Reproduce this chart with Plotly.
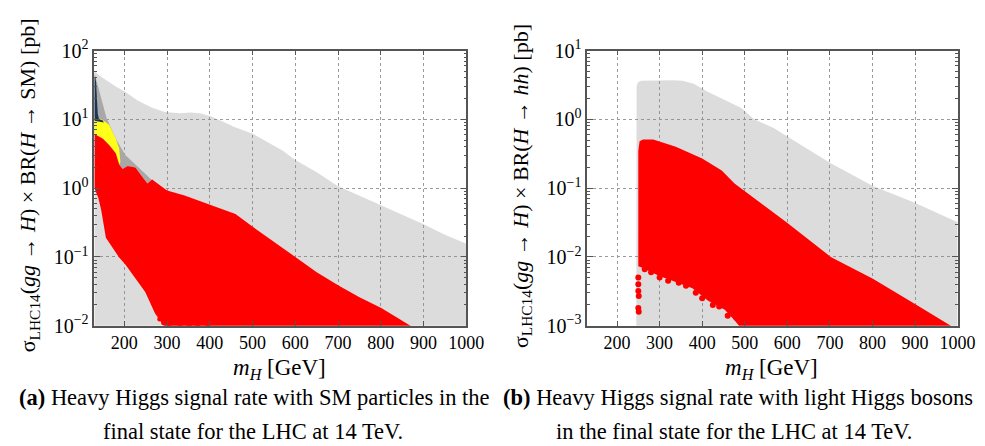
import plotly.graph_objects as go

# ---- values (m_H in GeV, rate in pb) ----

# (a) heavy Higgs -> SM particles
a_light_m = [130, 145, 160, 180, 203, 230, 265, 295, 330, 357, 380, 403, 430, 456, 502,
             571, 598, 650, 699, 750, 798, 850, 899, 950, 1000]
a_light_s = [50, 42, 36, 30, 25, 19, 14.7, 12.8, 12.3, 12.6, 12.2, 11, 9.3, 7.8, 6.1,
             3.5, 2.6, 1.7, 1.07, 0.78, 0.57, 0.41, 0.30, 0.21, 0.155]

a_dark_m = [130, 140, 158, 180, 203, 226, 265, 285, 300]
a_dark_s = [48, 28, 10.7, 5.2, 3.0, 2.2, 1.3, 1.05, 0.92]

a_navy_m = [130, 130, 132, 134, 136, 138, 141, 150, 152]
a_navy_s = [9.5, 40, 42, 35, 20, 12, 10, 9.6, 9.0]

a_yellow_m = [130, 150, 165, 173, 180, 188, 191]
a_yellow_s = [10.7, 9.8, 8.3, 6.5, 5.2, 3.8, 2.4]

a_red_top_m = [130, 150, 165, 180, 188, 196, 208, 226, 242, 254, 265, 284, 300, 341,
               417, 460, 502, 548, 598, 650, 702, 750, 801, 840, 875]
a_red_top_s = [6.1, 5.2, 4.2, 3.2, 2.2, 1.9, 2.1, 2.0, 1.46, 1.17, 1.33, 1.07, 0.92, 0.78,
               0.53, 0.42, 0.27, 0.17, 0.1, 0.06, 0.038, 0.026, 0.018, 0.013, 0.0095]
a_red_low_m = [130, 139, 146, 157, 187, 203, 226, 249, 272, 295]
a_red_low_s = [1.0, 0.73, 0.48, 0.19, 0.1, 0.077, 0.048, 0.031, 0.015, 0.0095]

a_dots_m = [283, 292, 305, 330, 352, 372, 395]
a_dots_s = [0.0125, 0.011, 0.0105, 0.0104, 0.0102, 0.0103, 0.0102]

# (b) heavy Higgs -> light Higgs pair
b_light_m = [245, 245, 246, 249, 257, 330, 354, 380, 414, 492, 522, 568, 598, 702, 801,
             898, 1000]
b_light_s = [1e-4, 2.3, 3.0, 3.45, 3.65, 3.7, 3.65, 3.3, 2.5, 1.46, 1.0, 0.75, 0.57, 0.23,
             0.107, 0.062, 0.032]

b_red_top_m = [250, 250, 253, 261, 285, 338, 400, 446, 476, 522, 598, 702, 801, 898, 984, 995]
b_red_top_s = [0.0073, 0.35, 0.48, 0.51, 0.51, 0.40, 0.27, 0.18, 0.117, 0.071, 0.032,
               0.01, 0.0048, 0.0021, 0.001, 0.0008]
b_red_low_m = [250, 261, 298, 338, 377, 414, 453, 476, 499]
b_red_low_s = [0.0073, 0.0069, 0.0053, 0.0043, 0.0035, 0.0023, 0.0017, 0.0012, 0.0008]

b_dots_m = [250, 250, 250, 251, 250, 251, 265, 280, 300, 320, 345, 362, 385, 400, 425,
            440, 460, 480]
b_dots_s = [0.005, 0.004, 0.0032, 0.0027, 0.0018, 0.0016, 0.0066, 0.006, 0.005, 0.0045,
            0.0042, 0.0038, 0.003, 0.0025, 0.002, 0.0019, 0.0014, 0.0013]

x_ticks = [200, 300, 400, 500, 600, 700, 800, 900, 1000]
a_decades = [-2, -1, 0, 1, 2]
b_decades = [-3, -2, -1, 0, 1]

LIGHT = "rgba(140,140,140,0.3)"   # lets the dotted grid show through, like the original
DARK = "#a8a8a8"
NAVY = "#1b3556"
YELLOW = "#ffff1a"
RED = "#ff0000"
FLOOR = 1e-4
FONT = "Liberation Serif"


def to_floor(m, s):
    # close an upper boundary down to below the axis
    return [m[0]] + m + [m[-1]], [FLOOR] + s + [FLOOR]


def band(top_m, top_s, low_m, low_s):
    return top_m + low_m[::-1], top_s + low_s[::-1]


def poly(x, y, color, xa, ya):
    return go.Scatter(x=x, y=y, mode="lines", fill="toself", fillcolor=color,
                      line=dict(width=0, color=color), xaxis=xa, yaxis=ya,
                      hoverinfo="skip", showlegend=False)


fig = go.Figure()

# panel (a)
x, y = to_floor(a_light_m, a_light_s)
fig.add_trace(poly(x, y, LIGHT, "x", "y"))
red_under_dark = [(m, s) for m, s in zip(a_red_top_m, a_red_top_s) if m <= a_dark_m[-1]]
x, y = band(a_dark_m, a_dark_s, [p[0] for p in red_under_dark], [p[1] for p in red_under_dark])
fig.add_trace(poly(x, y, DARK, "x", "y"))
red_under_yel = [(m, s) for m, s in zip(a_red_top_m, a_red_top_s) if m <= a_yellow_m[-1]]
x, y = band(a_yellow_m, a_yellow_s, [p[0] for p in red_under_yel], [p[1] for p in red_under_yel])
fig.add_trace(poly(x, y, YELLOW, "x", "y"))
fig.add_trace(poly(a_navy_m, a_navy_s, NAVY, "x", "y"))
x, y = band(a_red_top_m, a_red_top_s, a_red_low_m + [a_red_top_m[-1]],
            a_red_low_s + [a_red_top_s[-1]])
fig.add_trace(poly(x, y, RED, "x", "y"))
fig.add_trace(go.Scatter(x=a_dots_m, y=a_dots_s, mode="markers", xaxis="x", yaxis="y",
                         marker=dict(color=RED, size=5), hoverinfo="skip", showlegend=False))

# panel (b)
fig.add_trace(poly(b_light_m + [b_light_m[-1]], b_light_s + [FLOOR], LIGHT, "x2", "y2"))
x, y = band(b_red_top_m, b_red_top_s, b_red_low_m, b_red_low_s)
fig.add_trace(poly(x, y, RED, "x2", "y2"))
fig.add_trace(go.Scatter(x=b_dots_m, y=b_dots_s, mode="markers", xaxis="x2", yaxis="y2",
                         marker=dict(color=RED, size=6), hoverinfo="skip", showlegend=False))


def minor_vals(decades):
    vals = []
    for d in decades[:-1]:
        vals += [k * 10 ** d for k in range(2, 10)]
    return vals


frame = dict(showline=True, linecolor="#555555", linewidth=1.5, mirror="ticks",
             ticks="inside", tickcolor="#555555", showgrid=True, gridcolor="#9a9a9a",
             griddash="dot", gridwidth=1, zeroline=False,
             tickfont=dict(family=FONT, size=18, color="black"))

xaxis_cfg = dict(frame, range=[130, 1000], tickmode="array", tickvals=x_ticks,
                 ticklen=5)


def yaxis_cfg(decades, anchor):
    return dict(frame, type="log", range=[decades[0], decades[-1]], anchor=anchor,
                tickmode="array", tickvals=[10 ** d for d in decades],
                ticktext=["10<sup>%s</sup>" % (str(d).replace("-", "\u2212")) for d in decades],
                ticklen=6, domain=[0.278, 0.930],
                tickfont=dict(family=FONT, size=20, color="black"),
                minor=dict(tickmode="array", tickvals=minor_vals(decades), ticks="inside",
                           ticklen=3, tickcolor="#555555", showgrid=False))


fig.update_layout(
    width=985, height=446, margin=dict(l=0, r=0, t=0, b=0),
    paper_bgcolor="white", plot_bgcolor="white",
    font=dict(family=FONT, color="black"),
    xaxis=dict(xaxis_cfg, domain=[0.0893, 0.474], anchor="y"),
    yaxis=yaxis_cfg(a_decades, "x"),
    xaxis2=dict(xaxis_cfg, domain=[0.599, 0.982], anchor="y2"),
    yaxis2=yaxis_cfg(b_decades, "x2"),
)


def ann(text, x, y, size, xanchor="center", **kw):
    fig.add_annotation(text=text, x=x / 985, y=1 - y / 446, xref="paper", yref="paper",
                       xanchor=xanchor, yanchor="middle", showarrow=False,
                       font=dict(family=FONT, size=size, color="black"), **kw)


ann("σ<sub>LHC14</sub>(<i>gg</i> → <i>H</i>) × BR(<i>H</i> → SM) [pb]", 21, 174, 22,
    textangle=-90)
ann("σ<sub>LHC14</sub>(<i>gg</i> → <i>H</i>) × BR(<i>H</i> → <i>hh</i>) [pb]", 523, 174, 22,
    textangle=-90)
ann("<i>m<sub>H</sub></i> [GeV]", 277, 368, 23)
ann("<i>m<sub>H</sub></i> [GeV]", 778, 368, 23)

ann("<b>(a)</b> Heavy Higgs signal rate with SM particles in the", 251, 398, 22.5)
ann("final state for the LHC at 14 TeV.", 250, 434, 22.5)
ann("<b>(b)</b> Heavy Higgs signal rate with light Higgs bosons", 502, 398, 22.5,
    xanchor="left")
ann("in the final state for the LHC at 14 TeV.", 740, 434, 22.5)

fig.write_html("out.html")
